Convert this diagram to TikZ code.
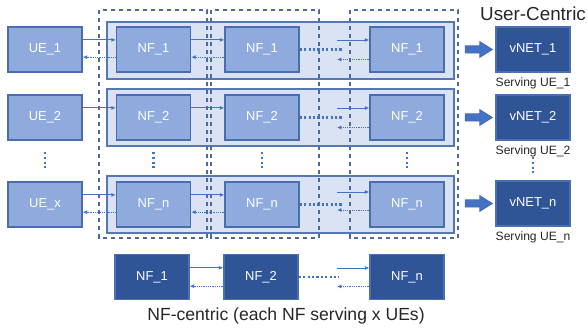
\documentclass[tikz,border=0pt]{standalone}
\usepackage{fontspec}
\setmainfont{Liberation Sans}
\usetikzlibrary{positioning,arrows.meta,shapes.arrows,backgrounds}

\definecolor{nflight}{HTML}{8FAADC}
\definecolor{nfedge}{HTML}{4A6DB0}
\definecolor{bandfill}{HTML}{DAE3F3}
\definecolor{bandedge}{HTML}{5676B4}
\definecolor{nfdark}{HTML}{2F5597}
\definecolor{darkedge}{HTML}{4A6FB5}
\definecolor{linkblue}{HTML}{4472C4}
\definecolor{coledge}{HTML}{4C6A9C}
\definecolor{captext}{HTML}{262626}

\tikzset{
  nfbox/.style={draw=nfedge, line width=0.35mm, fill=nflight, text=white,
    minimum width=18.5mm, minimum height=11.25mm, inner sep=0pt,
    font=\fontsize{9.2}{10}\selectfont},
  darkbox/.style={nfbox, fill=nfdark, draw=darkedge},
  band/.style={draw=bandedge, line width=0.3mm, fill=bandfill},
  colbox/.style={draw=coledge, line width=0.28mm, dash pattern=on 1.1mm off 0.9mm},
  fwd/.style={draw=linkblue, line width=0.2mm, -{Latex[length=1.1mm,width=1mm]}},
  back/.style={fwd, dash pattern=on 0.25mm off 0.2mm},
  chain/.style={draw=linkblue, line width=0.6mm, dash pattern=on 0.55mm off 0.55mm},
  vdots/.style={draw=linkblue, line width=0.55mm, dash pattern=on 0.5mm off 0.7mm},
  blockarrow/.style={single arrow, fill=linkblue, draw=nfedge, line width=0.2mm,
    minimum height=6.75mm, inner sep=0.8mm, single arrow head extend=1.07mm,
    single arrow tip angle=64, anchor=center},
  serving/.style={font=\fontsize{8.6}{10}\selectfont, text=captext, inner sep=0pt},
}

\begin{document}
\begin{tikzpicture}[x=0.25mm, y=-0.25mm]
  \useasboundingbox (0,0) rectangle (588,329);

  % users on the left
  \node[nfbox] (ue1) at (45,49.5) {UE\_1};
  \node[nfbox] (ue2) at (45,117.5) {UE\_2};
  \node[nfbox] (uex) at (45,204.5) {UE\_x};

  % network functions, three columns per row
  \node[nfbox] (a1) at (153.5,49.5) {NF\_1};
  \node[nfbox] (b1) at (262,49.5) {NF\_1};
  \node[nfbox] (c1) at (407,49.5) {NF\_1};
  \node[nfbox] (a2) at (153.5,117.5) {NF\_2};
  \node[nfbox] (b2) at (262,117.5) {NF\_2};
  \node[nfbox] (c2) at (407,117.5) {NF\_2};
  \node[nfbox] (an) at (153.5,204.5) {NF\_n};
  \node[nfbox] (bn) at (262,204.5) {NF\_n};
  \node[nfbox] (cn) at (407,204.5) {NF\_n};

  % per-user slices behind the rows
  \begin{scope}[on background layer]
    \draw[band] (107,22) rectangle (454,79);
    \draw[band] (107,89) rectangle (454,146);
    \draw[band] (107,176) rectangle (454,233);
  \end{scope}

  % one dashed frame per network function
  \draw[colbox] (99,10) rectangle (207,238);
  \draw[colbox] (211,10) rectangle (319,238);
  \draw[colbox] (350,10) rectangle (458,238);

  % virtual networks on the right
  \node[font=\fontsize{13.4}{15}\selectfont, text=captext] (uc) at (533,14) {User-Centric};
  \node[darkbox] (v1) at (533,49.5) {vNET\_1};
  \node[darkbox] (v2) at (533,117.5) {vNET\_2};
  \node[darkbox] (vn) at (533,203.5) {vNET\_n};
  \node[serving, below=1.2mm of v1] (s1) {Serving UE\_1};
  \node[serving, below=1.2mm of v2] (s2) {Serving UE\_2};
  \node[serving, below=1.2mm of vn] (sn) {Serving UE\_n};

  \node[blockarrow] (ba1) at (476,49.5) {};
  \node[blockarrow] (ba2) at (476,117.5) {};
  \node[blockarrow] (ban) at (476,203.5) {};

  % row 1
  \draw[fwd] ([yshift=2.4mm]ue1.east) -- ([yshift=2.4mm]a1.west);
  \draw[back] ([yshift=-1.9mm]a1.west) -- ([yshift=-1.9mm]ue1.east);
  \draw[fwd] ([yshift=2.4mm]a1.east) -- ([yshift=2.4mm]b1.west);
  \draw[back] ([yshift=-1.9mm]b1.west) -- ([yshift=-1.9mm]a1.east);
  \coordinate (g1) at (342,49.5);
  \coordinate (f1) at (337,40);
  \coordinate (h1) at (337,59.5);
  \draw[chain] (b1.east) -- (g1);
  \draw[fwd] (f1) -- (f1 -| c1.west);
  \draw[back] (h1 -| c1.west) -- (h1);

  % row 2
  \draw[fwd] ([yshift=2.4mm]ue2.east) -- ([yshift=2.4mm]a2.west);
  \draw[fwd] ([yshift=2.4mm]a2.east) -- ([yshift=2.4mm]b2.west);
  \coordinate (g2) at (342,117.5);
  \coordinate (f2) at (337,108);
  \coordinate (h2) at (337,127.5);
  \draw[chain] (b2.east) -- (g2);
  \draw[fwd] (f2) -- (f2 -| c2.west);
  \draw[back] (h2 -| c2.west) -- (h2);

  % row n
  \draw[fwd] ([yshift=2.4mm]uex.east) -- ([yshift=2.4mm]an.west);
  \draw[back] ([yshift=-1.9mm]an.west) -- ([yshift=-1.9mm]uex.east);
  \draw[fwd] ([yshift=2.4mm]an.east) -- ([yshift=2.4mm]bn.west);
  \draw[back] ([yshift=-1.9mm]bn.west) -- ([yshift=-1.9mm]an.east);
  \coordinate (gn) at (342,204.5);
  \coordinate (fn) at (337,192);
  \coordinate (hn) at (337,210);
  \draw[chain] (bn.east) -- (gn);
  \draw[fwd] (fn) -- (fn -| cn.west);
  \draw[back] (hn -| cn.west) -- (hn);

  % vertical ellipses between row 2 and row n
  \draw[vdots] (45,152) -- (45,169);
  \draw[vdots] (153.5,152) -- (153.5,169);
  \draw[vdots] (262,152) -- (262,169);
  \draw[vdots] (407,152) -- (407,169);
  \draw[vdots] (533,157) -- (533,176);

  % NF-centric chain at the bottom
  \node[darkbox] (p1) at (152,277) {NF\_1};
  \node[darkbox] (p2) at (261,277) {NF\_2};
  \node[darkbox] (pn) at (407,277) {NF\_n};
  \draw[fwd] ([yshift=2.3mm]p1.east) -- ([yshift=2.3mm]p2.west);
  \draw[back] ([yshift=-2.3mm]p2.west) -- ([yshift=-2.3mm]p1.east);
  \coordinate (gp) at (339,277);
  \coordinate (fp) at (337,268);
  \coordinate (hp) at (337,286.5);
  \draw[chain] (p2.east) -- (gp);
  \draw[fwd] (fp) -- (fp -| pn.west);
  \draw[back] (hp -| pn.west) -- (hp);

  \node[font=\fontsize{12.5}{14}\selectfont, text=captext] (cap) at (286,316)
    {NF-centric (each NF serving x UEs)};
\end{tikzpicture}
\end{document}
